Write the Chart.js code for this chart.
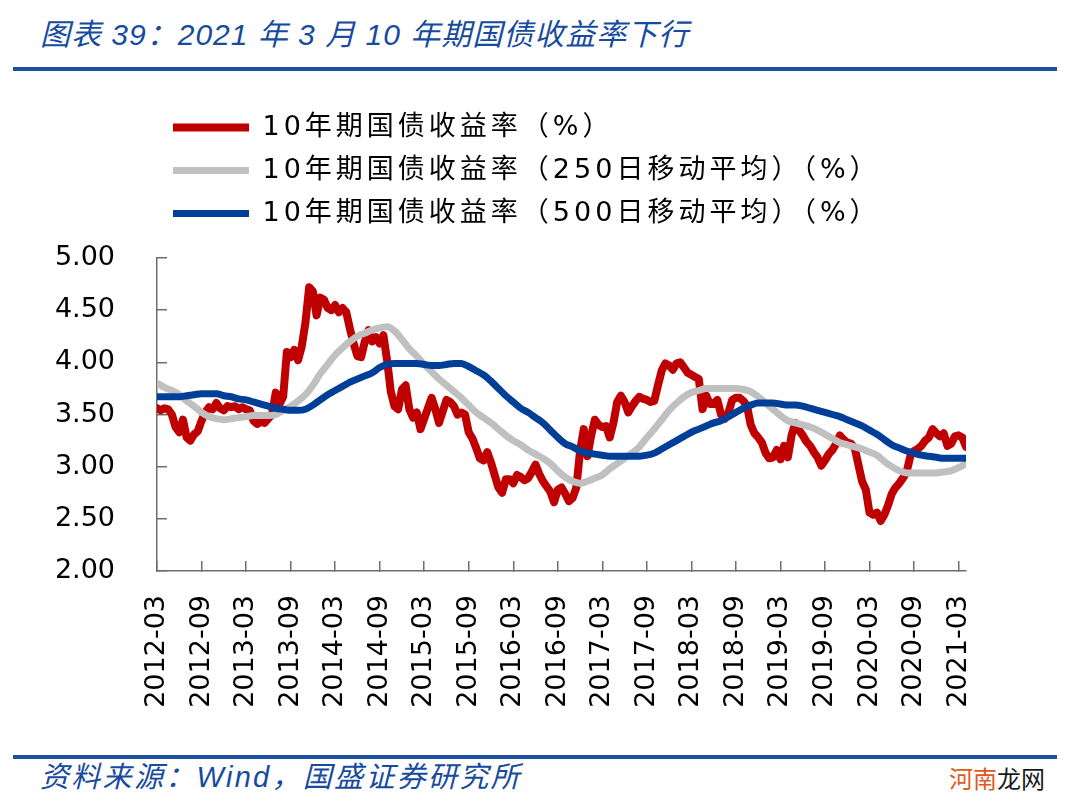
<!DOCTYPE html>
<html>
<head>
<meta charset="utf-8">
<script src="https://cdn.jsdelivr.net/npm/chart.js@4.4.1/dist/chart.umd.min.js"></script>
<style>
html,body{margin:0;padding:0;background:#fff;}
body{width:1080px;height:809px;position:relative;overflow:hidden;}
.title{position:absolute;left:40px;top:15px;font-style:italic;font-size:30px;font-family:'Liberation Sans','Noto Sans CJK SC',sans-serif;color:#174B9E;letter-spacing:1px;white-space:nowrap;line-height:40px;}
.rule{position:absolute;left:13px;width:1044px;height:4px;background:#1D4E9F;}
#wrap{position:absolute;left:0;top:80px;width:1080px;height:660px;}
.source{position:absolute;left:40px;top:757px;font-style:italic;font-size:29px;font-family:'Liberation Sans','Noto Sans CJK SC',sans-serif;color:#174B9E;letter-spacing:2.3px;white-space:nowrap;line-height:40px;}
.wm{position:absolute;left:949px;top:763px;font-size:24px;font-family:'Noto Sans CJK SC',sans-serif;line-height:30px;white-space:nowrap;}
.wm .a{color:#E2581D;} .wm .b{color:#1a1a1a;}
</style>
</head>
<body>
<div class="title">图表 39：2021 年 3 月 10 年期国债收益率下行</div>
<div class="rule" style="top:67px;"></div>
<div id="wrap"><canvas id="c"></canvas></div>
<div class="rule" style="top:755px;"></div>
<div class="source">资料来源：Wind，国盛证券研究所</div>
<div class="wm"><span class="a">河南</span><span class="b">龙网</span></div>
<script>
// Tick labels every 6 months, starting 2012-03
const tickLabels = ['2012-03','2012-09','2013-03','2013-09','2014-03','2014-09','2015-03','2015-09','2016-03','2016-09','2017-03','2017-09','2018-03','2018-09','2019-03','2019-09','2020-03','2020-09','2021-03'];
const seriesNames = ['10年期国债收益率（%）','10年期国债收益率（250日移动平均）（%）','10年期国债收益率（500日移动平均）（%）'];

// 10Y yield, half-month steps from 2012-03
const yield10y = [
3.56,3.54,3.56,3.55,3.50,3.38,3.33,3.45,3.28,3.25,3.31,3.34,
3.44,3.52,3.57,3.55,3.61,3.56,3.54,3.58,3.57,3.58,3.55,3.57,
3.55,3.54,3.44,3.41,3.43,3.42,3.46,3.50,3.71,3.60,3.67,4.10,
4.05,4.12,4.02,4.15,4.38,4.72,4.68,4.45,4.62,4.60,4.52,4.50,
4.55,4.48,4.52,4.48,4.32,4.18,4.06,4.05,4.20,4.31,4.20,4.24,
4.18,4.26,4.02,3.72,3.58,3.55,3.74,3.78,3.55,3.47,3.52,3.36,
3.46,3.56,3.66,3.55,3.42,3.53,3.64,3.62,3.58,3.50,3.52,3.50,
3.33,3.27,3.18,3.08,3.06,3.14,3.04,2.92,2.80,2.75,2.88,2.88,
2.84,2.92,2.90,2.87,2.89,2.95,3.02,2.93,2.86,2.81,2.76,2.66,
2.78,2.80,2.74,2.67,2.70,2.80,3.15,3.36,3.10,3.30,3.45,3.40,
3.38,3.39,3.28,3.42,3.62,3.68,3.62,3.52,3.58,3.63,3.67,3.65,
3.64,3.62,3.63,3.78,3.92,3.99,3.97,3.93,3.99,4.00,3.95,3.90,
3.88,3.86,3.84,3.55,3.68,3.60,3.60,3.64,3.50,3.46,3.52,3.64,
3.66,3.66,3.63,3.58,3.40,3.32,3.28,3.23,3.13,3.08,3.09,3.16,
3.07,3.20,3.09,3.30,3.42,3.35,3.30,3.24,3.20,3.14,3.09,3.01,
3.06,3.12,3.16,3.22,3.30,3.26,3.23,3.22,3.18,3.02,2.86,2.78,
2.56,2.54,2.56,2.48,2.54,2.63,2.74,2.80,2.84,2.89,2.95,3.10,
3.15,3.17,3.20,3.25,3.28,3.36,3.32,3.29,3.32,3.20,3.22,3.29,
3.30,3.28,3.19
];
// 250-day moving average, monthly from 2012-03
const ma250 = [
3.80,3.76,3.73,3.69,3.63,3.58,3.52,3.48,3.46,3.45,3.46,3.47,
3.48,3.49,3.49,3.49,3.50,3.54,3.58,3.63,3.69,3.78,3.89,3.98,
4.07,4.14,4.20,4.25,4.28,4.31,4.33,4.34,4.30,4.22,4.13,4.06,
3.98,3.91,3.84,3.78,3.72,3.66,3.59,3.52,3.47,3.42,3.36,3.30,
3.25,3.21,3.16,3.12,3.08,3.03,2.96,2.90,2.86,2.84,2.86,2.89,
2.92,2.98,3.03,3.08,3.13,3.19,3.28,3.36,3.45,3.54,3.61,3.67,
3.71,3.73,3.75,3.75,3.75,3.75,3.75,3.74,3.72,3.67,3.61,3.55,
3.49,3.44,3.42,3.40,3.38,3.35,3.31,3.27,3.23,3.21,3.19,3.17,
3.14,3.11,3.05,3.00,2.96,2.94,2.94,2.94,2.94,2.94,2.95,2.96,
2.99,3.03
];
// 500-day moving average, monthly from 2012-03
const ma500 = [
3.67,3.67,3.67,3.67,3.68,3.69,3.70,3.70,3.70,3.68,3.67,3.65,
3.64,3.62,3.60,3.58,3.56,3.55,3.54,3.54,3.55,3.59,3.64,3.69,
3.73,3.77,3.81,3.84,3.87,3.90,3.95,3.98,3.99,3.99,3.99,3.99,
3.98,3.97,3.97,3.98,3.99,3.99,3.96,3.92,3.88,3.82,3.75,3.68,
3.62,3.56,3.52,3.47,3.42,3.35,3.28,3.22,3.19,3.15,3.13,3.12,
3.11,3.10,3.10,3.10,3.10,3.10,3.11,3.13,3.17,3.21,3.25,3.29,
3.33,3.36,3.39,3.42,3.44,3.48,3.52,3.56,3.59,3.61,3.61,3.61,
3.60,3.59,3.59,3.58,3.56,3.54,3.52,3.50,3.48,3.45,3.42,3.39,
3.35,3.31,3.26,3.21,3.18,3.15,3.13,3.11,3.10,3.09,3.08,3.08,
3.08,3.08
];

const yieldStepMonths = 0.5;
const maStepMonths = 1;
const tickStepMonths = 6;
const toPoints = (arr, step) => arr.map((v, i) => ({x: i * step, y: v}));
const tickMonths = tickLabels.map((_, i) => i * tickStepMonths);

const FONT = "'DejaVu Sans', 'Noto Sans CJK SC', sans-serif";
const LEGEND_SPACING = '4px';

const legendTweak = {
  id: 'legendTweak',
  beforeInit(chart) {
    const lg = chart.legend;
    if (!lg) return;
    const fit = lg.fit, draw = lg.draw;
    lg.fit = function() {
      const c = this.ctx, prev = c.letterSpacing;
      c.letterSpacing = LEGEND_SPACING;
      fit.apply(this, arguments);
      c.letterSpacing = prev || '0px';
      this.height += 21;
    };
    lg.draw = function() {
      const c = this.ctx, prev = c.letterSpacing;
      c.letterSpacing = LEGEND_SPACING;
      draw.apply(this, arguments);
      c.letterSpacing = prev || '0px';
    };
  }
};

const axisColor = '#6E6E6E';

new Chart(document.getElementById('c'), {
  type: 'line',
  data: {
    datasets: [
      {label: seriesNames[0], data: toPoints(yield10y, yieldStepMonths), borderColor: '#C00000', backgroundColor: '#C00000', borderWidth: 8, order: 2, tension: 0},
      {label: seriesNames[1], data: toPoints(ma250, maStepMonths), borderColor: '#C0C0C0', backgroundColor: '#C0C0C0', borderWidth: 7, order: 1, cubicInterpolationMode: 'monotone'},
      {label: seriesNames[2], data: toPoints(ma500, maStepMonths), borderColor: '#003F98', backgroundColor: '#003F98', borderWidth: 7, order: 0, cubicInterpolationMode: 'monotone'}
    ]
  },
  options: {
    responsive: true,
    maintainAspectRatio: false,
    animation: false,
    datasets: {line: {pointRadius: 0, pointHoverRadius: 0, borderCapStyle: 'round', borderJoinStyle: 'round', fill: false}},
    layout: {padding: {left: 40, right: 114, top: 18, bottom: 0}},
    plugins: {
      legend: {
        position: 'top', fullSize: false, align: 'start',
        labels: {
          usePointStyle: true, pointStyle: 'line', pointStyleWidth: 76, padding: 16,
          color: '#000', font: {size: 27, family: FONT},
          sort: (a, b) => a.datasetIndex - b.datasetIndex
        }
      },
      tooltip: {enabled: false}
    },
    scales: {
      x: {
        type: 'linear', min: 0, max: 109,
        afterBuildTicks: (s) => { s.ticks = tickMonths.map(v => ({value: v})); },
        afterFit: (s) => { s.height = 169; },
        grid: {drawOnChartArea: false, tickLength: -10, color: axisColor, lineWidth: 1.5},
        border: {color: axisColor, width: 1.5},
        ticks: {autoSkip: false, minRotation: 90, maxRotation: 90, padding: 34, color: '#000',
          font: {size: 27, family: FONT},
          callback: (v, i) => tickLabels[i]}
      },
      y: {
        min: 2, max: 5,
        afterFit: (s) => { s.width = 117; },
        grid: {drawOnChartArea: false, tickLength: -10, color: axisColor, lineWidth: 1.5},
        border: {color: axisColor, width: 1.5},
        ticks: {stepSize: 0.5, padding: 52, color: '#000', font: {size: 27, family: FONT},
          callback: (v) => Number(v).toFixed(2)}
      }
    }
  },
  plugins: [legendTweak]
});
</script>
</body>
</html>
